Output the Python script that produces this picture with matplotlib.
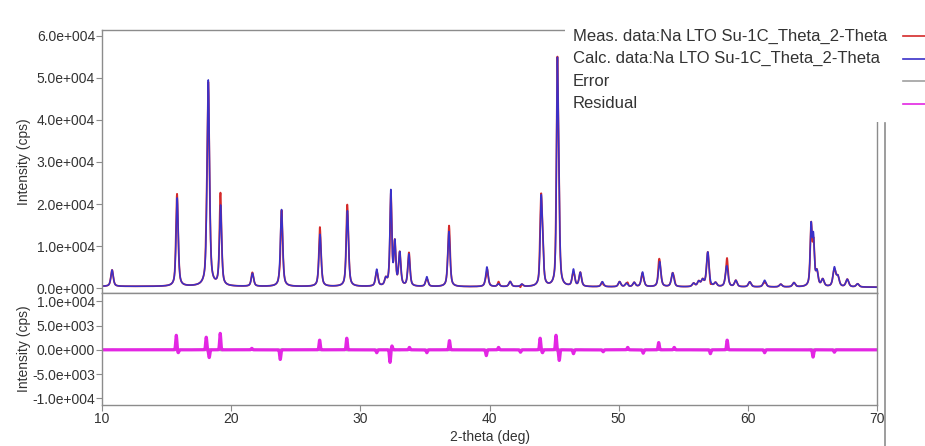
import numpy as np
import matplotlib
matplotlib.use("Agg")
import matplotlib.pyplot as plt
from matplotlib.lines import Line2D
from matplotlib.patches import Rectangle
from matplotlib.ticker import FuncFormatter, MultipleLocator

plt.rcParams['font.family'] = ['Liberation Sans', 'DejaVu Sans']

# Reflections of the calculated pattern: 2-theta (deg), peak height (cps), FWHM (deg)
peak_pos = [10.78, 15.82, 18.23, 19.18, 21.65, 23.90, 26.88, 29.00, 31.27, 31.97,
            32.36, 32.67, 33.05, 33.76, 35.15, 36.86, 39.80, 40.70, 41.60, 42.50,
            44.00, 44.12, 45.25, 45.36, 46.50, 47.03, 48.74, 50.07, 50.60, 51.20,
            51.85, 53.17, 54.18, 55.80, 56.20, 56.50, 56.90, 57.50, 58.37, 59.07,
            60.15, 61.30, 62.55, 63.57, 64.90, 65.08, 65.35, 65.80, 66.70, 66.97,
            67.70, 68.50]
peak_height = [3900, 21000, 49000, 19000, 3100, 18300, 12400, 18000, 4000, 1600,
               22500, 10000, 7800, 7600, 2300, 13100, 4700, 650, 1200, 550,
               19500, 6500, 47500, 21000, 4000, 3300, 1200, 1200, 800, 1000,
               3500, 6000, 3300, 800, 1200, 1500, 8200, 900, 5000, 1500,
               1200, 1600, 650, 1000, 14000, 11000, 3300, 1700, 4500, 2300,
               1800, 750]
peak_fwhm = [0.22, 0.20, 0.22, 0.20, 0.22, 0.21, 0.21, 0.21, 0.21, 0.21,
             0.17, 0.17, 0.20, 0.20, 0.21, 0.21, 0.22, 0.23, 0.23, 0.23,
             0.18, 0.18, 0.15, 0.16, 0.22, 0.22, 0.23, 0.23, 0.23, 0.23,
             0.23, 0.23, 0.24, 0.24, 0.24, 0.24, 0.23, 0.24, 0.24, 0.24,
             0.25, 0.25, 0.25, 0.25, 0.17, 0.17, 0.22, 0.25, 0.25, 0.25,
             0.26, 0.26]

# Misfit features of the refinement: 2-theta (deg) and amplitude (cps)
resid_pos = [15.75, 15.90, 18.07, 18.30, 19.15, 21.60, 23.80, 26.85, 28.95, 31.27,
             32.30, 32.45, 33.80, 35.15, 36.90, 39.75, 40.70, 42.40, 43.92, 44.10,
             45.15, 45.40, 46.50, 48.80, 50.70, 51.90, 53.10, 54.30, 57.10, 58.40,
             61.30, 65.05, 66.70]
resid_amp = [3000, -600, 2600, -1600, 3400, 300, -2000, 2000, 2400, -600,
             -2600, 800, 500, -600, 1900, -1200, 500, -500, 2400, -600,
             3000, -2200, -800, -400, 500, -700, 1500, 500, -800, 2000,
             -600, -1500, -500]

# Background level (cps) at the ends of the scan
bkg_start, bkg_end = 400, 200

two_theta = np.linspace(10, 70, 6001)


def pseudo_voigt(x, x0, h, w, eta=0.6):
    lor = 1.0 / (1.0 + ((x - x0) / (w / 2)) ** 2)
    gau = np.exp(-np.log(2) * ((x - x0) / (w / 2)) ** 2)
    return h * (eta * lor + (1 - eta) * gau)


calc = bkg_start + (bkg_end - bkg_start) * (two_theta - 10) / 60
for p, h, w in zip(peak_pos, peak_height, peak_fwhm):
    calc = calc + pseudo_voigt(two_theta, p, h, w)

resid = np.zeros_like(two_theta)
for p, a in zip(resid_pos, resid_amp):
    resid = resid + a * np.exp(-0.5 * ((two_theta - p) / 0.045) ** 2)

meas = calc + resid
err = np.sqrt(meas)


def sci3(v, _pos=None):
    if v == 0:
        return "0.0e+000"
    e = int(np.floor(np.log10(abs(v))))
    m = v / 10 ** e
    sign = '+' if e >= 0 else '-'
    return f"{m:.1f}e{sign}{abs(e):03d}"


fig = plt.figure(figsize=(9.25, 4.46), dpi=100)
W, H = 925, 446
left, width = 102 / W, 775 / W
ax1 = fig.add_axes([left, 1 - 292.7 / H, width, (292.7 - 30) / H])
ax2 = fig.add_axes([left, 1 - 405 / H, width, (405 - 292.7) / H])

spine_col = '#8c8c8c'
text_col = '#333333'
meas_col, calc_col, err_col, res_col = '#d42a2a', '#3a30c8', '#a0a0a0', '#e326e3'

ax1.plot(two_theta, meas, color=meas_col, lw=1.3)
ax1.plot(two_theta, calc, color=calc_col, lw=1.1)
ax1.set_xlim(10, 70)
ax1.set_ylim(-1100, 61400)
ax1.yaxis.set_major_locator(MultipleLocator(10000))
ax1.yaxis.set_major_formatter(FuncFormatter(sci3))
ax1.tick_params(axis='x', bottom=False, labelbottom=False)

ax2.plot(two_theta, err, color=err_col, lw=1.2)
ax2.plot(two_theta, -err, color=err_col, lw=1.2)
ax2.plot(two_theta, resid, color=res_col, lw=2.3)
ax2.set_xlim(10, 70)
ax2.set_ylim(-11400, 11800)
ax2.set_yticks([-10000, -5000, 0, 5000, 10000])
ax2.yaxis.set_major_formatter(FuncFormatter(sci3))
ax2.set_xticks([10, 20, 30, 40, 50, 60, 70])
ax2.set_xlabel('2-theta (deg)', fontsize=10, color=text_col, labelpad=3)

for ax in (ax1, ax2):
    for s in ax.spines.values():
        s.set_color(spine_col)
        s.set_linewidth(1.0)
    ax.tick_params(axis='both', direction='out', length=4, width=0.8,
                   color=spine_col, labelsize=10, labelcolor=text_col, pad=1)
    ax.set_ylabel('Intensity (cps)', fontsize=10, color=text_col)
    ax.yaxis.set_label_coords(-0.0916, 0.5)

# White panel holding the legend in the upper right
fig.add_artist(Rectangle((565 / W, 1 - 122 / H), 360 / W, 122 / H,
                         transform=fig.transFigure, facecolor='white',
                         edgecolor='none', zorder=5))
# Splitter line to the right of the plot
fig.add_artist(Line2D([885 / W, 885 / W], [0, 1 - 123 / H],
                      transform=fig.transFigure, color=spine_col, lw=1.2,
                      zorder=6))

# Legend entries: label on the left, line sample on the right
labels = ['Meas. data:Na LTO Su-1C_Theta_2-Theta',
          'Calc. data:Na LTO Su-1C_Theta_2-Theta',
          'Error', 'Residual']
colors = [meas_col, calc_col, err_col, res_col]
row_y = [36, 58.7, 81.3, 104]
for lab, col, y in zip(labels, colors, row_y):
    fig.text(573 / W, 1 - y / H, lab, fontsize=12, color=text_col,
             ha='left', va='center', zorder=7)
    fig.add_artist(Line2D([903 / W, 1.0], [1 - y / H, 1 - y / H],
                          transform=fig.transFigure, color=col, lw=1.2,
                          zorder=7))

fig.savefig('out.png', dpi=100, facecolor='white')
